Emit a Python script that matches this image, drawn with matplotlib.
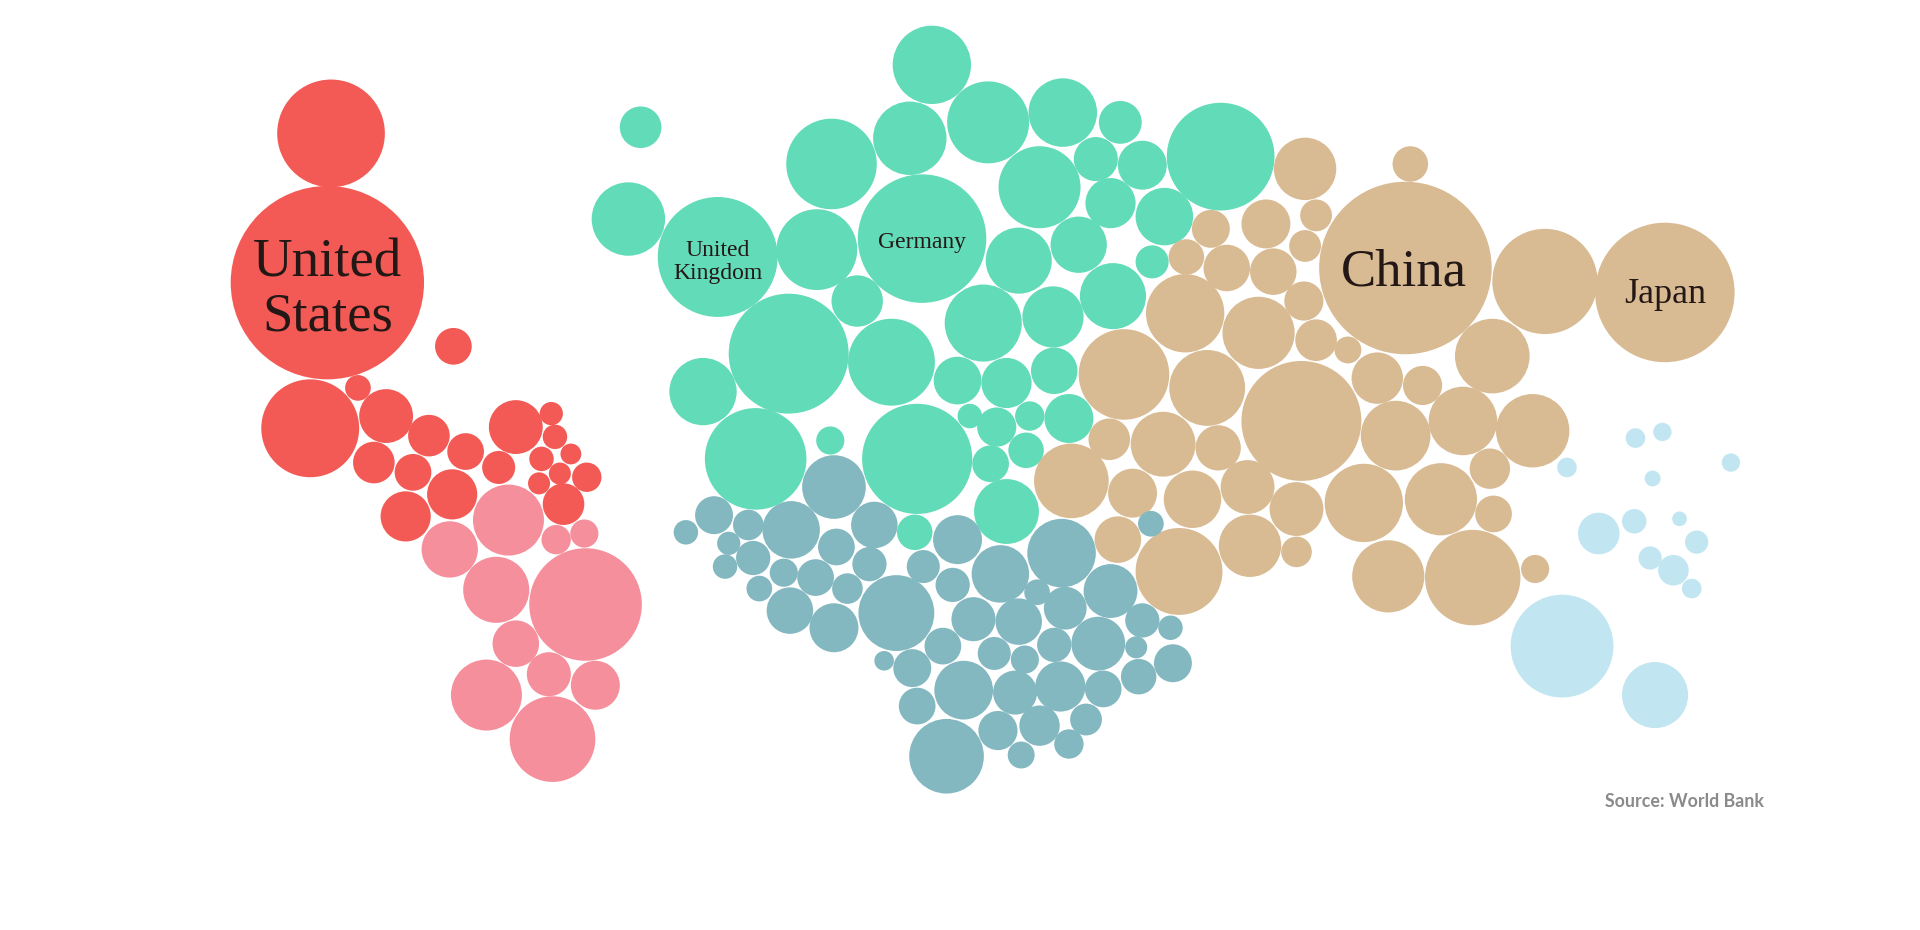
import matplotlib
matplotlib.use("Agg")
import matplotlib.pyplot as plt
from matplotlib.patches import Circle

# (x, y, radius) of each bubble, in the 1568x760 picture units
north_america = [(270,109,44),(267,231,79),(370,283,15),(253,350,40),(292,317,10.5),(315,340,22),(350,356,17),(305,378,17),(337,386,15),(380,369,15),(421,349,22),(450,338,9.5),(453,357,10),(442,375,10),(466,371,8.5),(457,387,9),(440,395,9),(479,390,12),(407,382,13.5),(369,404,20.5),(331,422,20.5),(460,412,17)]
south_america = [(415,425,29),(367,449,23),(405,482,27),(478,494,46),(454,441,12),(477,436,11.5),(421,526,19),(448,551,18),(486,560,20),(397,568,29),(451,604,35)]
europe = [(761,53,32),(743,113,30),(807,100,33.5),(868,92,28),(915,100,17.5),(895,130,18),(933,135,20),(997,128,44),(679,134,37),(523,104,17),(513,179,30),(586,210,49),(667,204,33),(753,195,52.5),(849,153,33.5),(907,166,20.5),(951,177,23.5),(881,200,23),(832,213,27),(941,214,13.5),(700,246,21),(909,242,27),(803,264,31.5),(860,259,25),(644,289,49),(728,296,35.5),(861,303,19),(782,311,19.5),(822,313,20.5),(574,320,27.5),(873,342,20),(792,340,10),(814,349,16),(841,340,12),(617,375,41.5),(678,360,11.5),(749,375,45),(838,368,14.5),(809,379,15),(822,418,26.5),(747,435,14.5)]
asia = [(1152,134,14.5),(1066,138,25.5),(1034,183,20),(1075,176,13),(1066,201,13),(989,187,15.5),(969,210,14.5),(1002,219,19),(1040,222,19),(1065,246,16),(1148,219,70.5),(1262,230,43),(1360,239,57),(968,256,32),(1028,272,29.5),(1075,278,17),(1101,286,11),(1219,291,30.5),(918,306,37),(986,317,31),(1125,309,21),(1162,315,16),(1063,344,49),(1195,344,28),(1252,352,30),(1140,356,28.5),(906,359,17),(950,363,26.5),(995,366,18.5),(1217,383,16.5),(875,393,30.5),(925,403,20),(974,408,23.5),(1019,398,22),(1114,411,32),(1177,408,29.5),(1059,416,22),(1220,420,15),(913,441,19),(1021,446,25.5),(1059,451,12.5),(963,467,35.5),(1134,471,29.5),(1203,472,39),(1254,465,11.5)]
africa = [(681,398,26),(583,421,15.5),(560,435,10),(611,429,12.5),(595,444,9.5),(615,456,14),(592,463,10),(646,433,23.5),(683,447,15),(714,429,19),(640,468,11.5),(666,472,15),(710,461,14),(620,481,10.5),(692,481,12.5),(645,499,19),(681,513,20),(732,501,31),(782,441,20),(754,463,13.5),(778,478,14),(817,469,23.5),(867,452,28),(940,428,10.5),(907,483,22),(847,484,10.5),(870,497,17.5),(795,506,18),(832,508,19),(933,507,14),(956,513,10),(770,528,15),(812,534,13.5),(837,539,11.5),(861,527,14),(897,526,22),(928,529,9),(958,542,15.5),(722,540,8),(745,546,15.5),(787,564,24),(829,566,18),(866,561,20.5),(901,563,15),(930,553,14.5),(749,577,15),(887,588,13),(815,597,16),(849,593,16.5),(873,608,12),(834,617,11),(773,618,30.5)]
oceania = [(1336,358,8),(1358,353,7.5),(1414,378,7.5),(1280,382,8),(1350,391,6.5),(1372,424,6),(1335,426,10),(1306,436,17),(1386,443,9.5),(1348,456,9.5),(1367,466,12.5),(1382,481,8),(1276,528,42),(1352,568,27)]

region_colors = {"na":"#F45A55","sa":"#F58F9C","eu":"#62DBB8","as":"#D9BB93","af":"#84B8C1","oc":"#C1E6F1"}
regions = [("na",north_america),("sa",south_america),("eu",europe),("as",asia),("af",africa),("oc",oceania)]

labels = [("United\nStates",267,237,39.5),("United\nKingdom",586,214,17),("Germany",753,198,17),("China",1147,223,38),("Japan",1360,241,26)]

fig = plt.figure(figsize=(19.2,9.3),dpi=100,facecolor="white")
ax = fig.add_axes([0,0,1,1])
ax.set_xlim(0,1568); ax.set_ylim(760,0); ax.set_aspect("equal"); ax.axis("off")
for key,items in regions:
    for x,y,r in items:
        ax.add_patch(Circle((x,y),r,facecolor=region_colors[key],edgecolor="none"))
for t,x,y,s in labels:
    ax.text(x,y,t,ha="center",va="center",fontsize=s,family="Liberation Serif",color="#231815",linespacing=1.1)
ax.text(1441,655,"Source: World Bank",ha="right",va="center",fontsize=12.8,family="Lato",weight="bold",color="#8a8a8a")
fig.savefig("out.png",dpi=100)
